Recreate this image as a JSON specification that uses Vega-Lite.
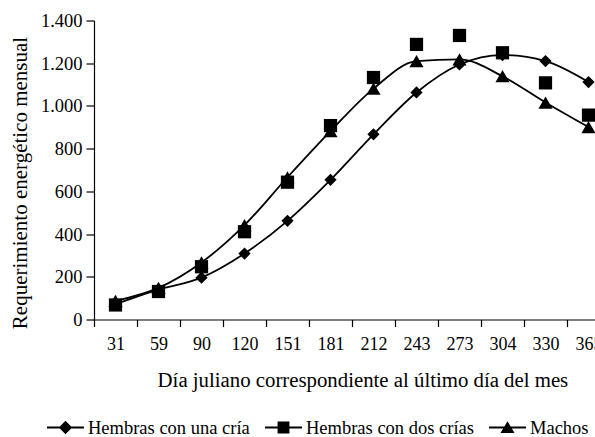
{
  "$schema": "https://vega.github.io/schema/vega-lite/v6.json",
  "autosize": "none",
  "width": 516,
  "height": 299,
  "padding": {"left": 94, "top": 20.5, "right": -15, "bottom": 117.5},
  "background": "white",
  "config": {
    "font": "Times New Roman",
    "view": {"stroke": null},
    "text": {"font": "Times New Roman"},
    "axis": {"labelFont": "Times New Roman", "titleFont": "Times New Roman", "labelColor": "black", "titleColor": "black", "domainColor": "black", "domainWidth": 1.2, "tickColor": "black", "tickWidth": 1.2, "grid": false, "titleFontWeight": "normal"},
    "legend": {"labelFont": "Times New Roman", "labelColor": "black"}
  },
  "data": {
    "values": [
      {"dia": 31, "serie": "Hembras con una cría", "valor": 72},
      {"dia": 59, "serie": "Hembras con una cría", "valor": 140},
      {"dia": 90, "serie": "Hembras con una cría", "valor": 196},
      {"dia": 120, "serie": "Hembras con una cría", "valor": 309},
      {"dia": 151, "serie": "Hembras con una cría", "valor": 462},
      {"dia": 181, "serie": "Hembras con una cría", "valor": 654},
      {"dia": 212, "serie": "Hembras con una cría", "valor": 867},
      {"dia": 243, "serie": "Hembras con una cría", "valor": 1063},
      {"dia": 273, "serie": "Hembras con una cría", "valor": 1194},
      {"dia": 304, "serie": "Hembras con una cría", "valor": 1238},
      {"dia": 330, "serie": "Hembras con una cría", "valor": 1210},
      {"dia": 365, "serie": "Hembras con una cría", "valor": 1112},
      {"dia": 31, "serie": "Hembras con dos crías", "valor": 68},
      {"dia": 59, "serie": "Hembras con dos crías", "valor": 131},
      {"dia": 90, "serie": "Hembras con dos crías", "valor": 247},
      {"dia": 120, "serie": "Hembras con dos crías", "valor": 411},
      {"dia": 151, "serie": "Hembras con dos crías", "valor": 643},
      {"dia": 181, "serie": "Hembras con dos crías", "valor": 908},
      {"dia": 212, "serie": "Hembras con dos crías", "valor": 1133},
      {"dia": 243, "serie": "Hembras con dos crías", "valor": 1288},
      {"dia": 273, "serie": "Hembras con dos crías", "valor": 1330},
      {"dia": 304, "serie": "Hembras con dos crías", "valor": 1249},
      {"dia": 330, "serie": "Hembras con dos crías", "valor": 1108},
      {"dia": 365, "serie": "Hembras con dos crías", "valor": 957},
      {"dia": 31, "serie": "Machos", "valor": 87},
      {"dia": 59, "serie": "Machos", "valor": 148},
      {"dia": 90, "serie": "Machos", "valor": 267},
      {"dia": 120, "serie": "Machos", "valor": 442},
      {"dia": 151, "serie": "Machos", "valor": 666},
      {"dia": 181, "serie": "Machos", "valor": 882},
      {"dia": 212, "serie": "Machos", "valor": 1081},
      {"dia": 243, "serie": "Machos", "valor": 1210},
      {"dia": 273, "serie": "Machos", "valor": 1218},
      {"dia": 304, "serie": "Machos", "valor": 1139},
      {"dia": 330, "serie": "Machos", "valor": 1016},
      {"dia": 365, "serie": "Machos", "valor": 901}
    ]
  },
  "encoding": {
    "x": {
      "field": "dia", "type": "ordinal", "sort": "ascending",
      "scale": {"type": "band", "paddingInner": 0, "paddingOuter": 0},
      "axis": {"title": "Día juliano correspondiente al último día del mes", "labelAngle": 0, "labelFontSize": 18, "titleFontSize": 20.8, "tickBand": "extent", "tickSize": 7, "labelPadding": 9, "titleX": 268.4, "titleY": 61, "titleBaseline": "middle", "titleAlign": "center", "titleAnchor": null}
    },
    "y": {
      "field": "valor", "type": "quantitative",
      "scale": {"domain": [0, 1400], "nice": false},
      "axis": {"title": "Requerimiento energético mensual", "values": [0, 200, 400, 600, 800, 1000, 1200, 1400], "labelExpr": "replace(format(datum.value, ','), ',', '.')", "labelFontSize": 18.5, "titleFontSize": 21, "tickSize": 8, "labelPadding": 4, "titleX": -73.5, "titleY": 162, "titleBaseline": "middle", "titleAlign": "center", "titleAnchor": null}
    }
  },
  "layer": [
    {
      "transform": [{"filter": "datum.serie != 'Hembras con dos crías'"}],
      "mark": {"type": "line", "color": "black", "strokeWidth": 1.8, "interpolate": "monotone"},
      "encoding": {"detail": {"field": "serie", "type": "nominal"}}
    },
    {
      "mark": {"type": "point", "filled": true, "color": "black", "opacity": 1},
      "encoding": {
        "shape": {"field": "serie", "type": "nominal", "scale": {"domain": ["Hembras con una cría", "Hembras con dos crías", "Machos"], "range": ["diamond", "square", "triangle-up"]}, "legend": null},
        "size": {"field": "serie", "type": "nominal", "scale": {"domain": ["Hembras con una cría", "Hembras con dos crías", "Machos"], "range": [150, 200, 200]}, "legend": null}
      }
    },
    {
      "transform": [{"filter": "false"}],
      "mark": {"type": "point", "filled": true, "color": "black", "opacity": 1},
      "encoding": {
        "shape": {"field": "serie", "type": "nominal", "scale": {"domain": ["Hembras con una cría", "Hembras con dos crías", "Machos"], "range": ["M-1,-0.05L1,-0.05L1,0.05L-1,0.05ZM0,-0.36L0.36,0L0,0.36L-0.36,0Z", "M-1,-0.05L1,-0.05L1,0.05L-1,0.05ZM-0.32,-0.32L0.32,-0.32L0.32,0.32L-0.32,0.32Z", "M-1,-0.05L1,-0.05L1,0.05L-1,0.05ZM0,-0.34L0.38,0.3L-0.38,0.3Z"]},
          "legend": {"title": null, "orient": "none", "direction": "horizontal", "legendX": -47, "legendY": 388.5, "symbolSize": 1369, "symbolFillColor": "black", "symbolStrokeColor": "black", "symbolStrokeWidth": 0, "symbolOpacity": 1, "labelFontSize": 18.5, "labelFont": "Times New Roman", "labelOffset": 4, "columnPadding": 15, "labelLimit": 300, "padding": 0,
            "encode": {"symbols": {"update": {"fill": {"value": "black"}, "opacity": {"value": 1}}}}}
        }
      }
    }
  ],
  "resolve": {"scale": {"shape": "independent"}, "legend": {"shape": "independent"}}
}
